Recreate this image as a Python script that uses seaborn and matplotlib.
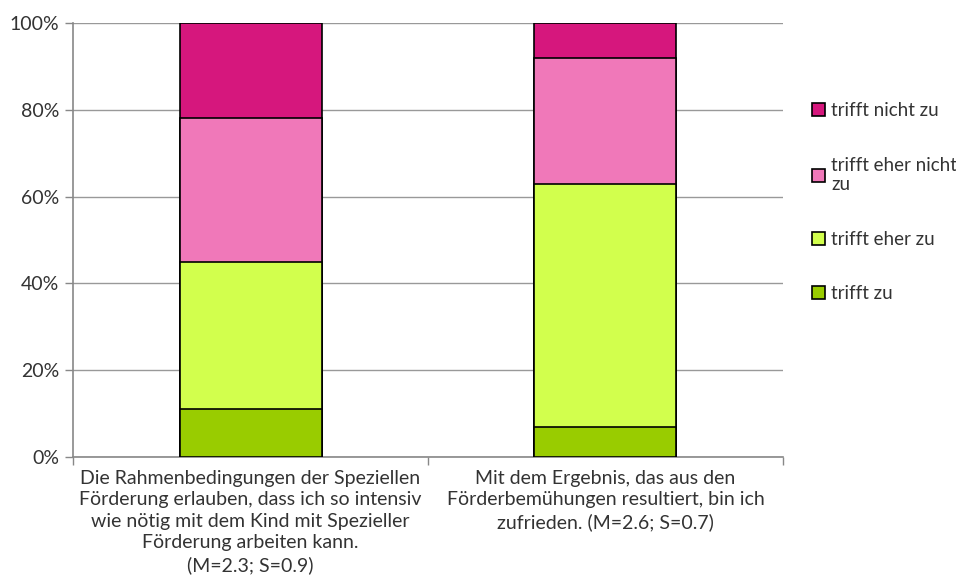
import pandas as pd
import matplotlib.pyplot as plt
import seaborn as sns
from matplotlib.patches import Patch

categories = [
    "Die Rahmenbedingungen der Speziellen\nFörderung erlauben, dass ich so intensiv\nwie nötig mit dem Kind mit Spezieller\nFörderung arbeiten kann.\n(M=2.3; S=0.9)",
    "Mit dem Ergebnis, das aus den\nFörderbemühungen resultiert, bin ich\nzufrieden. (M=2.6; S=0.7)",
]
levels = ["trifft zu", "trifft eher zu", "trifft eher nicht zu", "trifft nicht zu"]
trifft_zu = [11, 7]
trifft_eher_zu = [34, 56]
trifft_eher_nicht_zu = [33, 29]
trifft_nicht_zu = [22, 8]
legend_labels = ["trifft nicht zu", "trifft eher nicht\nzu", "trifft eher zu", "trifft zu"]
colors = ["#99CC00", "#D2FF4D", "#F078B9", "#D6177D"]

sns.set_theme(style="white")
plt.rcParams['font.family'] = ['Lato', 'DejaVu Sans']

df = pd.DataFrame({
    "category": categories,
    levels[0]: trifft_zu,
    levels[1]: trifft_eher_zu,
    levels[2]: trifft_eher_nicht_zu,
    levels[3]: trifft_nicht_zu,
})
cum = df[levels].cumsum(axis=1)

fig = plt.figure(figsize=(9.56, 5.88), dpi=100)
ax = fig.add_axes([0.0764, 0.2228, 0.7426, 0.7382])

# draw cumulative totals from the top down so each bar covers the next
for lvl, col in reversed(list(zip(levels, colors))):
    sns.barplot(x=df["category"], y=cum[lvl], color=col, width=0.4,
                edgecolor="black", linewidth=1.2, saturation=1, ax=ax, zorder=3)

ax.set_ylim(0, 100)
ax.set_xlim(-0.5, 1.5)
ax.set_yticks([0, 20, 40, 60, 80, 100])
ax.set_yticklabels(["0%", "20%", "40%", "60%", "80%", "100%"])
ax.yaxis.grid(True, color="#999999", linewidth=1)
ax.set_axisbelow(True)
ax.set_xlabel("")
ax.set_ylabel("")

ax.set_xticks([-0.5, 0.5, 1.5])
ax.set_xticklabels(["", "", ""])
ax.tick_params(axis="x", bottom=True, length=6, color="#888888", width=1)
ax.tick_params(axis="y", left=True, length=6, color="#888888", width=1,
               labelsize=14, labelcolor="#333333", pad=4)
for i, lab in enumerate(categories):
    ax.text(i, -3.0, lab, ha="center", va="top", fontsize=14,
            color="#333333", linespacing=1.32)

for s in ["top", "right"]:
    ax.spines[s].set_visible(False)
for s in ["left", "bottom"]:
    ax.spines[s].set_color("#888888")
    ax.spines[s].set_linewidth(1.2)

handles = [Patch(facecolor=c, edgecolor="black", linewidth=1.2)
           for c in reversed(colors)]
fig.legend(handles, legend_labels, loc="upper left",
           bbox_to_anchor=(0.832, 0.855), frameon=False, fontsize=13.5,
           handlelength=0.7, handleheight=0.7, handletextpad=0.3,
           labelspacing=2.0, labelcolor="#333333")

plt.savefig("out.png", dpi=100)
